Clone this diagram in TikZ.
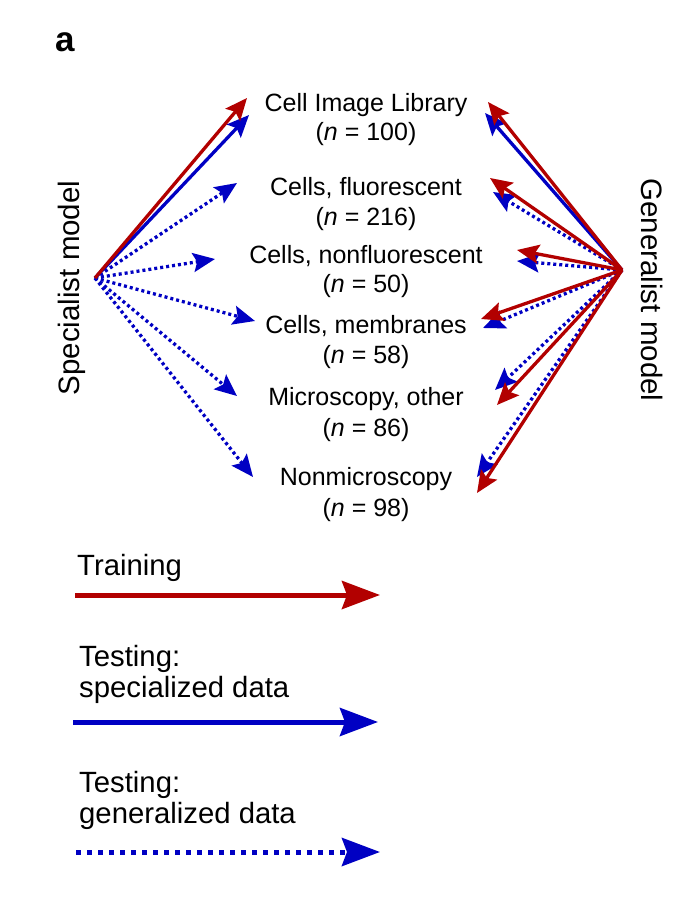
\documentclass[tikz,border=0pt]{standalone}
\usepackage{fontspec}
\setmainfont{Liberation Sans}
\usetikzlibrary{arrows.meta}
\definecolor{tred}{RGB}{178,0,0}
\definecolor{tblue}{RGB}{0,0,195}
\begin{document}
\begin{tikzpicture}[x=1pt,y=-1pt,
  lbl/.style={font=\fontsize{25}{29}\selectfont, anchor=base, inner sep=0pt},
  side/.style={font=\fontsize{29.5}{34}\selectfont, anchor=base, inner sep=0pt},
  leg/.style={font=\fontsize{29.3}{33}\selectfont, anchor=base west, inner sep=0pt},
  headm/.style={-{Stealth[length=22pt,width=19pt,inset=4pt]}},
  headl/.style={-{Stealth[length=38pt,width=28pt,inset=5pt]}},
  train/.style={tred, line width=3.3pt, headm},
  testspec/.style={tblue, line width=3.3pt, headm},
  testgen/.style={tblue, line width=3.3pt, dash pattern=on 3pt off 3pt, headm},
  ltrain/.style={tred, line width=5pt, headl},
  lspec/.style={tblue, line width=5pt, headl},
  lgen/.style={tblue, line width=5pt, dash pattern=on 5pt off 6pt, headl}
]
\fill[white] (0,0) rectangle (694,904);
\useasboundingbox (0,0) rectangle (694,904);

% panel letter
\node[anchor=base west, inner sep=0pt, font=\fontsize{35}{40}\selectfont\bfseries] (panel) at (55,52) {a};

% side labels
\node[side, rotate=90] (spec) at (79,288) {Specialist model};
\node[side, rotate=-90] (gen) at (641,290) {Generalist model};

% center labels
\node[lbl] (t1a) at (366,112) {Cell Image Library};
\node[lbl] (t1b) at (366,141) {(\textit{n} = 100)};
\node[lbl] (t2a) at (366,196) {Cells, fluorescent};
\node[lbl] (t2b) at (366,225) {(\textit{n} = 216)};
\node[lbl] (t3a) at (366,263) {Cells, nonfluorescent};
\node[lbl] (t3b) at (366,292) {(\textit{n} = 50)};
\node[lbl] (t4a) at (366,333) {Cells, membranes};
\node[lbl] (t4b) at (366,363) {(\textit{n} = 58)};
\node[lbl] (t5a) at (366,405) {Microscopy, other};
\node[lbl] (t5b) at (366,436) {(\textit{n} = 86)};
\node[lbl] (t6a) at (366,485) {Nonmicroscopy};
\node[lbl] (t6b) at (366,516) {(\textit{n} = 98)};

% origins
\coordinate (sp) at (95,278);
\coordinate (gp) at (622,270);

% left tips
\coordinate (L0r) at (247,98);
\coordinate (L0b) at (249,115);
\coordinate (L1) at (237,183);
\coordinate (L2) at (215,259);
\coordinate (L3) at (255,321);
\coordinate (L4) at (237,396);
\coordinate (L5) at (253,477);

% right tips
\coordinate (R0r) at (488,102);
\coordinate (R0b) at (485,113);
\coordinate (R1r) at (490,178);
\coordinate (R1b) at (493,192);
\coordinate (R2r) at (517,250);
\coordinate (R2b) at (517,261);
\coordinate (R3r) at (481,319);
\coordinate (R3b) at (483,328);
\coordinate (R4b) at (495,390);
\coordinate (R4r) at (497,405);
\coordinate (R5b) at (477,477);
\coordinate (R5r) at (477,493);

% specialist arrows
\draw[testgen] (sp) -- (L1);
\draw[testgen] (sp) -- (L2);
\draw[testgen] (sp) -- (L3);
\draw[testgen] (sp) -- (L4);
\draw[testgen] (sp) -- (L5);
\draw[testspec] (sp) -- (L0b);
\draw[train] (sp) -- (L0r);

% generalist arrows
\draw[testspec] (gp) -- (R0b);
\draw[testgen] (gp) -- (R1b);
\draw[testgen] (gp) -- (R2b);
\draw[testgen] (gp) -- (R3b);
\draw[testgen] (gp) -- (R4b);
\draw[testgen] (gp) -- (R5b);
\draw[train] (gp) -- (R0r);
\draw[train] (gp) -- (R1r);
\draw[train] (gp) -- (R2r);
\draw[train] (gp) -- (R3r);
\draw[train] (gp) -- (R4r);
\draw[train] (gp) -- (R5r);

% legend
\node[leg] (lg1) at (77,575) {Training};
\coordinate (lg1s) at (75,595);
\coordinate (lg1e) at (380,595);
\draw[ltrain] (lg1s) -- (lg1e);

\node[leg] (lg2a) at (79,666) {Testing:};
\node[leg] (lg2b) at (79,697) {specialized data};
\coordinate (lg2s) at (73,722);
\coordinate (lg2e) at (378,722);
\draw[lspec] (lg2s) -- (lg2e);

\node[leg] (lg3a) at (79,792) {Testing:};
\node[leg] (lg3b) at (79,823) {generalized data};
\coordinate (lg3s) at (76,852);
\coordinate (lg3e) at (380,852);
\draw[lgen] (lg3s) -- (lg3e);
\end{tikzpicture}
\end{document}
